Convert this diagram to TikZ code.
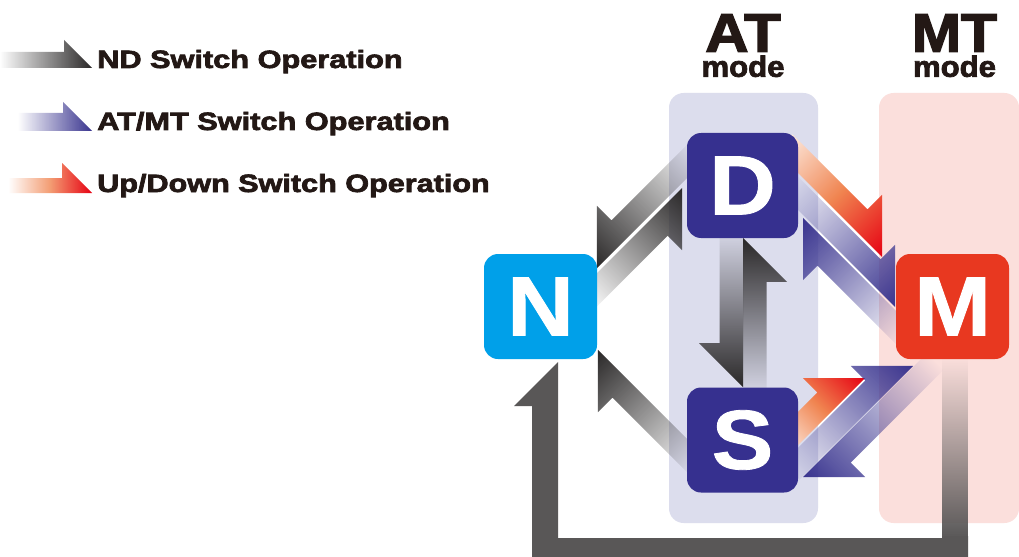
\documentclass[tikz,border=0pt]{standalone}
\usepackage{fontspec}
\setmainfont{Liberation Sans}
\newfontfamily\heavy[FakeBold=1]{Liberation Sans Bold}
\newfontfamily\heavier[FakeBold=2.5]{Liberation Sans Bold}
\usetikzlibrary{fadings}
\definecolor{txt}{HTML}{231815}
\definecolor{atband}{HTML}{DCDDED}
\definecolor{mtband}{HTML}{FBDFDC}
\definecolor{nblue}{HTML}{00A0E9}
\definecolor{mred}{HTML}{E83820}
\definecolor{dindigo}{HTML}{36308F}
\definecolor{ndark}{HTML}{2A2828}
\definecolor{atmt}{HTML}{39348F}
\definecolor{udred}{HTML}{E60012}
\definecolor{udmid}{HTML}{F08450}
\definecolor{udlight}{HTML}{FCE8DC}
\definecolor{loopgray}{HTML}{595757}
\tikzfading[name=arrowfade, left color=transparent!100, right color=transparent!0]
\tikzfading[name=downfade, top color=transparent!100, bottom color=transparent!0]
% half arrow: #1,#2 tip; #3 angle; #4 flip; #5 length; #6 band width; #7 head length; #8 style
\newcommand\harrow[8]{%
  \begin{scope}[transform canvas={shift={(#1,#2)},rotate=#3,yscale=#4}]
    \path[#8] (-#5,0) -- (0,0) -- (-#7,-#7) -- (-#7,-#6) -- (-#5,-#6) -- cycle;
  \end{scope}}
\tikzset{
  modebox/.style={rounded corners=10.5pt, minimum width=83.25pt, minimum height=78.75pt,
    inner sep=0pt, text=white, font=\heavy\fontsize{63}{63}\selectfont},
  legtext/.style={anchor=base west, inner sep=0pt, text=txt, font=\heavier\fontsize{18.8}{20}\selectfont},
  hdr/.style={anchor=north, inner sep=0pt, text=txt, align=center,
    font=\heavier\fontsize{40.9}{41}\selectfont},
  ndarrow/.style={fill=ndark, path fading=arrowfade},
  atarrow/.style={fill=atmt, path fading=arrowfade},
  udarrow/.style={left color=udlight, right color=udred, middle color=udmid},
  udlegend/.style={left color=white, right color=udred, middle color=udmid!80!white},
}
\newcommand\modeline{{\fontsize{22}{22}\selectfont\scalebox{1.06}[1]{mode}}}
\begin{document}
\begin{tikzpicture}[x=0.75pt, y=-0.75pt]
\useasboundingbox (0,0) rectangle (1019,556);
\clip (0,0) rectangle (1019,556);
\fill[white] (0,0) rectangle (1019,556);
% mode bands
\fill[atband, rounded corners=11pt] (669,93) rectangle (818,523);
\fill[mtband, rounded corners=11pt] (879,93) rectangle (1019,523);
% legend
\harrow{92}{68}{0}{1}{92}{16}{28}{ndarrow}
\harrow{92}{131}{0}{1}{74}{18}{29}{atarrow}
\harrow{92}{193}{0}{1}{84}{15}{30}{udlegend}
\node[legtext] (L1) at (97,68) {\scalebox{1.225}[1]{ND Switch Operation}};
\node[legtext] (L2) at (97,130) {\scalebox{1.225}[1]{AT/MT Switch Operation}};
\node[legtext] (L3) at (97,192) {\scalebox{1.22}[1]{Up/Down Switch Operation}};
% headers
\node[hdr] (AThdr) at (743,14) {\scalebox{1.1}[1]{AT}\\[-22.25pt]\modeline};
\node[hdr] (MThdr) at (954.5,14) {\scalebox{1.08}[1]{MT}\\[-22.25pt]\modeline};
% loop M -> N
\fill[loopgray] (942,536) -- (942,538) -- (558,538) -- (558,362) -- (514,406) -- (532,406)
  -- (532,570) -- (968,570) -- (968,536) -- cycle;
\fill[loopgray, path fading=downfade] (942,358) rectangle (968,538);
% N <-> D
\harrow{597}{268}{225}{-1}{155}{23.5}{44}{ndarrow}
\harrow{682}{188}{45}{-1}{150}{23.5}{44}{ndarrow}
% D <-> S
\harrow{743}{387}{270}{-1}{160}{23.5}{44}{ndarrow}
\harrow{743}{238}{90}{-1}{160}{23.5}{44}{ndarrow}
% S -> N
\harrow{598}{350}{135}{1}{155}{23.5}{44}{ndarrow}
% D -> M
\harrow{882}{257}{-45}{1}{150}{23.5}{44}{udarrow}
\harrow{895}{307}{-45}{1}{165}{23.5}{44}{atarrow}
% M -> D
\harrow{803}{218}{135}{1}{160}{23.5}{44}{atarrow}
% S -> M
\harrow{865}{378}{45}{1}{105}{23.5}{44}{udarrow}
\harrow{913}{366}{45}{1}{170}{23.5}{44}{atarrow}
% M -> S
\harrow{803}{477}{225}{1}{175}{23.5}{44}{atarrow}
% nodes
\node[modebox, fill=nblue, minimum width=84.75pt] (N) at (540.5,306.5) {\scalebox{1.1}[1]{N}};
\node[modebox, fill=mred, minimum width=84.75pt] (M) at (952.5,306.5) {\scalebox{1.1}[1]{M}};
\node[modebox, fill=dindigo] (D) at (742.5,185.5) {\scalebox{1.1}[1]{D}};
\node[modebox, fill=dindigo] (S) at (742.5,440) {\scalebox{1.1}[1]{S}};
\end{tikzpicture}
\end{document}
